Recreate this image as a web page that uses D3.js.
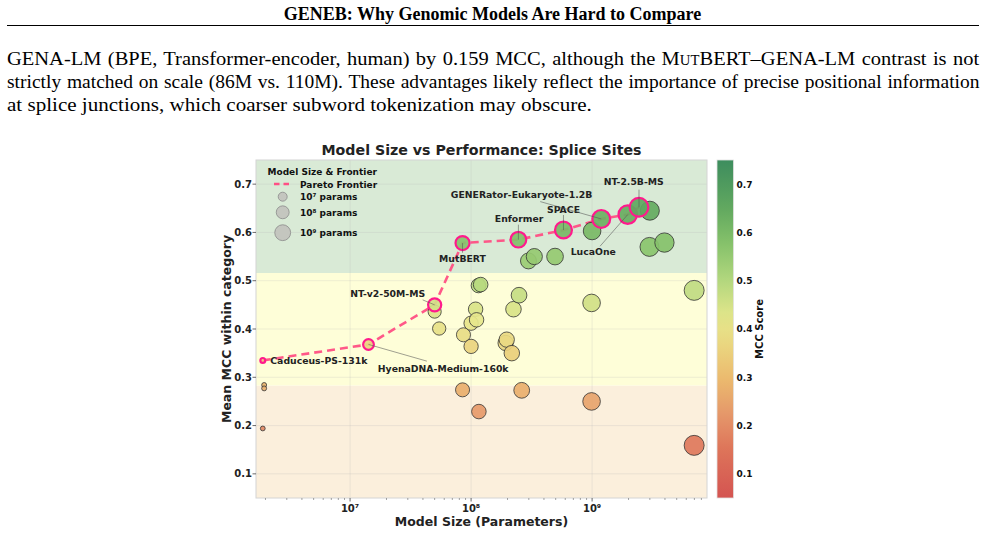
<!DOCTYPE html>
<html><head><meta charset="utf-8">
<script src="https://cdn.jsdelivr.net/npm/d3@7"></script>
<style>
body{margin:0;background:#fff;width:985px;height:533px;overflow:hidden;position:relative;}
#hdr{position:absolute;top:4px;left:0;width:985px;text-align:center;font:bold 18px "Liberation Serif";line-height:20px;color:#000;}
#rule{position:absolute;top:24.5px;left:7px;width:972px;height:1.6px;background:#000;}
.para{position:absolute;left:7px;width:1000px;font:19.5px "Liberation Serif";line-height:22.8px;color:#000;white-space:nowrap;transform:scaleX(1.08);transform-origin:0 0;}
svg{position:absolute;top:0;left:0;}
</style></head><body>
<div id="hdr">GENEB: Why Genomic Models Are Hard to Compare</div>
<div id="rule"></div>
<div class="para" style="top:48.2px"><span class="fill">GENA-LM (BPE, Transformer-encoder, human) by 0.159 MCC, although the M<span style="font-variant:small-caps">ut</span>BERT–GENA-LM contrast is not</span></div>
<div class="para" style="top:71px"><span class="fill">strictly matched on scale (86M vs. 110M). These advantages likely reflect the importance of precise positional information</span></div>
<div class="para" style="top:93.8px"><span>at splice junctions, which coarser subword tokenization may obscure.</span></div>
<svg id="chart" width="985" height="533"></svg>
<script>
// justify the first two paragraph lines to the full column width (972px)
document.querySelectorAll('span.fill').forEach(el=>{
  const nat = el.offsetWidth;
  const spaces = el.textContent.split(' ').length-1;
  const s = Math.min(1.08, 0.985*972/nat);
  el.parentNode.style.transform = `scaleX(${s})`;
  el.style.wordSpacing = ((972/s-nat)/spaces)+'px';
});

// ---------------- DATA ----------------
const modelNames = ["Caduceus-PS-131k","","","","HyenaDNA-Medium-160k","NT-v2-50M-MS","","","MutBERT","",
  "","","","","","","","","","",
  "","","","Enformer","","","","","SPACE","",
  "","","GENERator-Eukaryote-1.2B","LucaOne","NT-2.5B-MS","","","","",""];
const modelParams = [1.9e6,1.95e6,1.95e6,1.9e6,1.42e7,5.0e7,5.0e7,5.45e7,8.5e7,8.5e7,
  8.65e7,1.0e8,1.0e8,1.09e8,1.11e8,1.15e8,1.2e8,1.16e8,1.93e8,1.97e8,
  2.17e8,2.24e8,2.49e8,2.46e8,2.62e8,2.98e8,3.33e8,4.94e8,5.8e8,9.9e8,
  9.9e8,1.0e9,1.19e9,1.97e9,2.44e9,3.0e9,2.98e9,3.96e9,6.97e9,6.97e9];
const modelMCC = [0.335,0.284,0.277,0.194,0.368,0.450,0.436,0.401,0.578,0.274,
  0.388,0.364,0.412,0.441,0.419,0.490,0.492,0.229,0.371,0.378,
  0.350,0.441,0.470,0.585,0.273,0.541,0.550,0.550,0.605,0.454,
  0.250,0.603,0.628,0.637,0.652,0.645,0.570,0.579,0.480,0.159];
const bandBreaks = [0.05, 0.283, 0.516, 0.75];
const yTicks = [0.1,0.2,0.3,0.4,0.5,0.6,0.7];
const xTicks = [1e7,1e8,1e9];
const cbTicks = [0.1,0.2,0.3,0.4,0.5,0.6,0.7];
const legendSizes = [1e7,1e8,1e9];
const legendLabels = ["10⁷ params","10⁸ params","10⁹ params"];

// ---------------- LAYOUT ----------------
const svg = d3.select("#chart");
const L=256,R=707,T=160,B=498;
const x = d3.scaleLog().domain([1.67e6, 8.9e9]).range([L,R]);
const y = d3.scaleLinear().domain([0.05,0.75]).range([B,T]);
const r = d3.scaleRadial().domain([6.06,10]).range([0,10.2]).clamp(true);
const color = d3.scaleLinear()
  .domain([0.05,0.15,0.22,0.30,0.36,0.42,0.50,0.58,0.65,0.75])
  .range(["#d45451","#dd7459","#e5966a","#ebbb6e","#ead37e","#e6e78c","#b3d77e","#84c16a","#61a85f","#3d8d5e"])
  .interpolate(d3.interpolateRgb).clamp(true);
const font = "DejaVu Sans";
const sup = {"7":"⁷","8":"⁸","9":"⁹","6":"⁶"};

const data = modelParams.map((p,i)=>({name:modelNames[i],p,v:modelMCC[i],i}));

// bands
const bandColors = ["#fbefdc","#fefed8","#d9ead6"];
for(let k=0;k<3;k++){
  svg.append("rect").attr("x",L).attr("width",R-L)
    .attr("y",y(bandBreaks[k+1])).attr("height",y(bandBreaks[k])-y(bandBreaks[k+1]))
    .attr("fill",bandColors[k]);
}
// grid
const g = svg.append("g");
yTicks.forEach(t=>g.append("line").attr("x1",L).attr("x2",R).attr("y1",y(t)).attr("y2",y(t))
  .attr("stroke","#b8b8b8").attr("stroke-opacity",0.3).attr("stroke-width",0.8));
xTicks.forEach(t=>g.append("line").attr("y1",T).attr("y2",B).attr("x1",x(t)).attr("x2",x(t))
  .attr("stroke","#b8b8b8").attr("stroke-opacity",0.3).attr("stroke-width",0.8));
// frame
svg.append("rect").attr("x",L).attr("y",T).attr("width",R-L).attr("height",B-T)
  .attr("fill","none").attr("stroke","#d4d4d4").attr("stroke-width",1);

// axes ticks
const minor = [];
for(let e=6;e<=9;e++) for(let m=2;m<=9;m++){const v=m*Math.pow(10,e); if(v>=x.domain()[0]&&v<=x.domain()[1]) minor.push(v);}
minor.forEach(v=>svg.append("line").attr("x1",x(v)).attr("x2",x(v)).attr("y1",B).attr("y2",B+2)
  .attr("stroke","#666").attr("stroke-width",0.6));
xTicks.forEach(v=>{
  svg.append("line").attr("x1",x(v)).attr("x2",x(v)).attr("y1",B).attr("y2",B+3.5).attr("stroke","#444").attr("stroke-width",0.8);
  const e = Math.round(Math.log10(v));
  svg.append("text").attr("x",x(v)).attr("y",B+14).attr("text-anchor","middle")
    .attr("font-family",font).attr("font-weight","bold").attr("font-size",10).attr("fill","#222")
    .text("10"+sup[e]);
});
yTicks.forEach(v=>{
  svg.append("line").attr("x1",L-3.5).attr("x2",L).attr("y1",y(v)).attr("y2",y(v)).attr("stroke","#444").attr("stroke-width",0.8);
  svg.append("text").attr("x",L-4).attr("y",y(v)+3.6).attr("text-anchor","end")
    .attr("font-family",font).attr("font-weight","bold").attr("font-size",10).attr("fill","#222")
    .text(d3.format(".1f")(v));
});

// titles
svg.append("text").attr("x",(L+R)/2).attr("y",155).attr("text-anchor","middle")
  .attr("font-family",font).attr("font-weight","bold").attr("font-size",14.2).attr("fill","#222")
  .text("Model Size vs Performance: Splice Sites");
svg.append("text").attr("x",(L+R)/2).attr("y",526).attr("text-anchor","middle")
  .attr("font-family",font).attr("font-weight","bold").attr("font-size",12.5).attr("fill","#222")
  .text("Model Size (Parameters)");
svg.append("text").attr("transform",`translate(231,${(T+B)/2}) rotate(-90)`).attr("text-anchor","middle")
  .attr("font-family",font).attr("font-weight","bold").attr("font-size",12.5).attr("fill","#222")
  .text("Mean MCC within category");

// pareto frontier
const sorted = data.slice().sort((a,b)=>a.p-b.p || b.v-a.v);
const frontier=[]; let best=-Infinity;
sorted.forEach(d=>{ if(d.v>best){frontier.push(d); best=d.v;} });
const fset = new Set(frontier.map(d=>d.i));

const lineGen = d3.line().x(d=>x(d.p)).y(d=>y(d.v));
svg.append("path").attr("d",lineGen(frontier)).attr("fill","none")
  .attr("stroke","#ff4f84").attr("stroke-width",2.6).attr("stroke-dasharray","8,5").attr("opacity",0.95);

// points
svg.append("g").selectAll("circle").data(data.filter(d=>!fset.has(d.i))).join("circle")
  .attr("cx",d=>x(d.p)).attr("cy",d=>y(d.v)).attr("r",d=>r(Math.log10(d.p)))
  .attr("fill",d=>color(d.v)).attr("stroke","#333").attr("stroke-width",0.8).attr("fill-opacity",0.92);
svg.append("g").selectAll("circle").data(frontier).join("circle")
  .attr("cx",d=>x(d.p)).attr("cy",d=>y(d.v)).attr("r",d=>r(Math.log10(d.p)))
  .attr("fill",d=>color(d.v)).attr("stroke","#ff1a8c").attr("stroke-width",2.2).attr("fill-opacity",0.92);

// labels
const place = {
  "Caduceus-PS-131k":{dx:7.5,dy:0,anchor:"start",line:null},
  "HyenaDNA-Medium-160k":{dx:74.7,dy:24,anchor:"middle",line:[58.4,16.7]},
  "NT-v2-50M-MS":{dx:-47,dy:-10.7,anchor:"middle",line:[-12,-5]},
  "MutBERT":{dx:0,dy:15.4,anchor:"middle",line:[0,9.7]},
  "Enformer":{dx:0.7,dy:-20.7,anchor:"middle",line:[0,-15]},
  "SPACE":{dx:0,dy:-20,anchor:"middle",line:[0,-15]},
  "GENERator-Eukaryote-1.2B":{dx:-79.7,dy:-24.7,anchor:"middle",line:[-61,-17.3]},
  "LucaOne":{dx:-34.5,dy:36.7,anchor:"middle",line:[-27.7,31.7]},
  "NT-2.5B-MS":{dx:-5.2,dy:-25.4,anchor:"middle",line:[0,-17.7]}
};
data.filter(d=>d.name).forEach(d=>{
  const pl = place[d.name]; const px=x(d.p), py=y(d.v);
  if(pl.line){
    svg.append("line").attr("x1",px+pl.line[0]).attr("y1",py+pl.line[1]).attr("x2",px).attr("y2",py)
      .attr("stroke","#555").attr("stroke-width",0.7).attr("stroke-opacity",0.8);
  }
  svg.append("text").attr("x",px+pl.dx).attr("y",py+pl.dy+3.3).attr("text-anchor",pl.anchor)
    .attr("font-family",font).attr("font-weight","bold").attr("font-size",9.3).attr("fill","#222")
    .text(d.name);
});

// legend
const lg = svg.append("g");
lg.append("text").attr("x",267.5).attr("y",175).attr("font-family",font).attr("font-weight","bold")
  .attr("font-size",9).attr("fill","#111").text("Model Size & Frontier");
lg.append("line").attr("x1",274).attr("x2",291).attr("y1",184).attr("y2",184)
  .attr("stroke","#ff4f84").attr("stroke-width",2.4).attr("stroke-dasharray","5.5,4");
lg.append("text").attr("x",300).attr("y",187.5).attr("font-family",font).attr("font-weight","bold")
  .attr("font-size",9).attr("fill","#111").text("Pareto Frontier");
const legY=[196.7,212.3,232.7];
legendSizes.forEach((s,k)=>{
  lg.append("circle").attr("cx",282.7).attr("cy",legY[k]).attr("r",r(Math.log10(s))*0.9)
    .attr("fill","#c4c6bf").attr("stroke","#8a8a8a").attr("stroke-width",0.8);
  lg.append("text").attr("x",300).attr("y",legY[k]+3.3).attr("font-family",font).attr("font-weight","bold")
    .attr("font-size",9).attr("fill","#111").text(legendLabels[k]);
});

// colorbar
const cbX=717, cbW=16.5;
const defs = svg.append("defs");
const grad = defs.append("linearGradient").attr("id","cbg").attr("x1",0).attr("x2",0).attr("y1",1).attr("y2",0);
d3.range(0,1.0001,0.05).forEach(t=>{
  const v = y.domain()[0] + t*(y.domain()[1]-y.domain()[0]);
  grad.append("stop").attr("offset",t).attr("stop-color",color(v));
});
svg.append("rect").attr("x",cbX).attr("y",T).attr("width",cbW).attr("height",B-T).attr("fill","url(#cbg)")
  .attr("stroke","#e0e0e0").attr("stroke-width",0.8);
cbTicks.forEach(v=>{
  svg.append("text").attr("x",cbX+cbW+3).attr("y",y(v)+3.4).attr("font-family",font).attr("font-weight","bold")
    .attr("font-size",9).attr("fill","#111").text(d3.format(".1f")(v));
});
svg.append("text").attr("transform",`translate(763,${(T+B)/2}) rotate(-90)`).attr("text-anchor","middle")
  .attr("font-family",font).attr("font-weight","bold").attr("font-size",10).attr("fill","#111")
  .text("MCC Score");
</script>
</body></html>
